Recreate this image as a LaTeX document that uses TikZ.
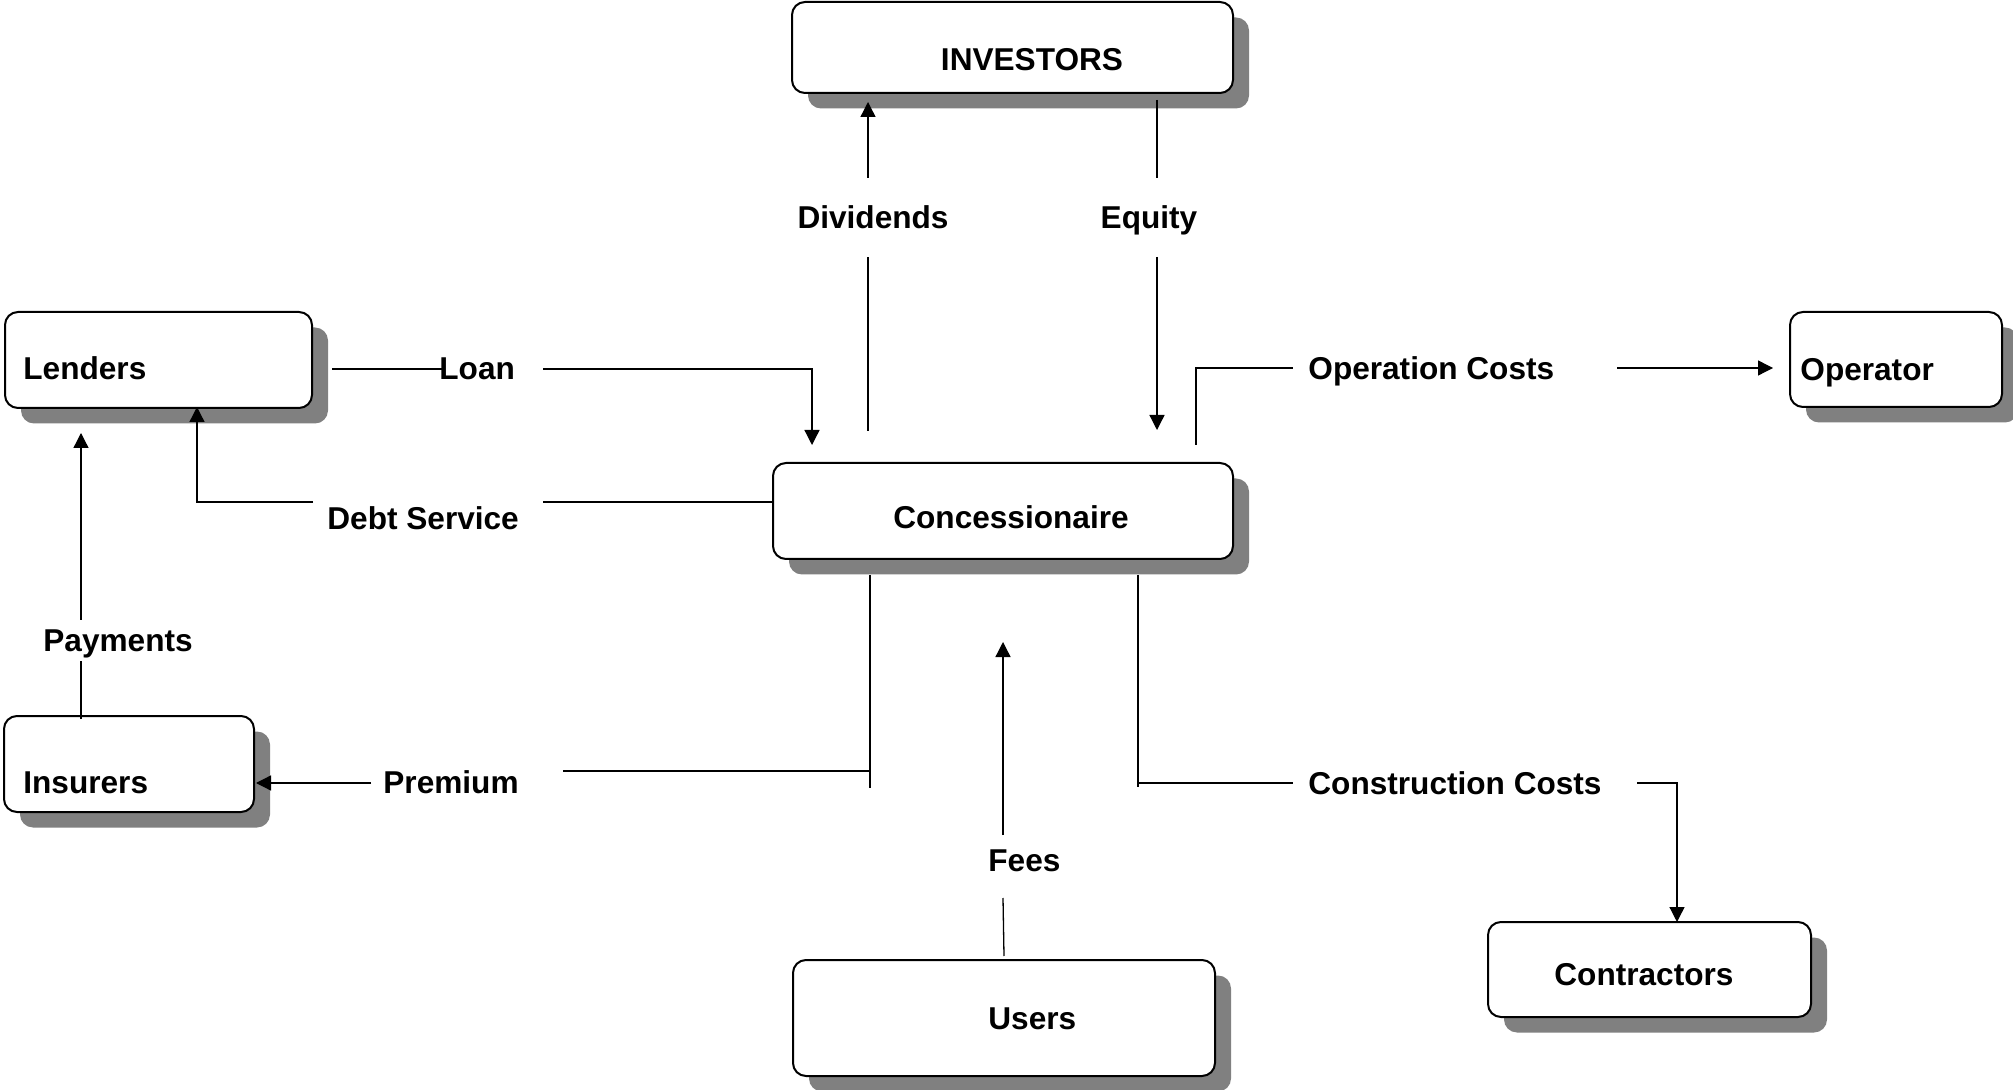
\documentclass[tikz,border=0pt]{standalone}
\usepackage{fontspec}
\setmainfont{Liberation Sans}
\usetikzlibrary{arrows.meta,shadows,fit}
\definecolor{shadowgray}{HTML}{808080}
\begin{document}
\begin{tikzpicture}[x=0.5pt,y=-0.5pt,
  box/.style={draw=black, line width=1pt, rounded corners=6.5pt, fill=white,
    inner sep=0pt, drop shadow={shadow xshift=8pt, shadow yshift=-7.75pt,
    fill=shadowgray, opacity=1}},
  lbl/.style={inner sep=0pt, font=\fontsize{15.8}{19}\selectfont\bfseries},
  flow/.style={line width=0.65pt, draw=black},
  tip/.style={flow, -{Triangle[length=7.5pt,width=7.5pt]}},
]
\useasboundingbox (0,0) rectangle (2013,1090);
\clip (0,0) rectangle (2013,1090);
\fill[white] (0,0) rectangle (2013,1090);

% boxes
\node[box, fit={(792,2) (1233,93)}]      (investors) {};
\node[box, fit={(5,312) (312,408)}]      (lenders) {};
\node[box, fit={(4,716) (254,812)}]      (insurers) {};
\node[box, fit={(1790,312) (2002,407)}]  (operator) {};
\node[box, fit={(773,463) (1233,559)}]   (conc) {};
\node[box, fit={(793,960) (1215,1076)}]  (users) {};
\node[box, fit={(1488,922) (1811,1017)}] (contractors) {};

% box captions
\node[lbl, anchor=base]      (tInvestors) at (1032,71)  {INVESTORS};
\node[lbl, anchor=base west] (tLenders)   at (23,380)   {Lenders};
\node[lbl, anchor=base west] (tInsurers)  at (23,793)   {Insurers};
\node[lbl, anchor=base west] (tOperator)  at (1800,381) {Operator};
\node[lbl, anchor=base]      (tConc)      at (1011,529) {Concessionaire};
\node[lbl, anchor=base west] (tUsers)     at (988,1029) {Users};
\node[lbl, anchor=base west] (tContr)     at (1554,985) {Contractors};

% flow labels
\node[lbl, anchor=base]      (lDiv)    at (873,229)  {Dividends};
\node[lbl, anchor=base]      (lEq)     at (1149,229) {Equity};
\node[lbl, anchor=base west] (lLoan)   at (439,380)  {Loan};
\node[lbl, anchor=base west] (lDebt)   at (327,530)  {Debt Service};
\node[lbl, anchor=base west] (lPay)    at (43,652)   {Payments};
\node[lbl, anchor=base west] (lPrem)   at (383,793)  {Premium};
\node[lbl, anchor=base west] (lOps)    at (1308,380) {Operation Costs};
\node[lbl, anchor=base west] (lCons)   at (1308,794) {Construction Costs};
\node[lbl, anchor=base west] (lFees)   at (988,871)  {Fees};

% connector end points
\coordinate (loanA) at (332,369);  \coordinate (loanB) at (443,369);
\coordinate (loanC) at (543,369);  \coordinate (loanD) at (812,369);
\coordinate (loanE) at (812,445);
\coordinate (debtA) at (773,502);  \coordinate (debtB) at (543,502);
\coordinate (debtC) at (313,502);  \coordinate (debtD) at (197,502);
\coordinate (debtE) at (197,407);
\coordinate (payA) at (81,719);    \coordinate (payB) at (81,661);
\coordinate (payC) at (81,620);    \coordinate (payD) at (81,433);
\coordinate (premA) at (870,575);  \coordinate (premB) at (870,788);
\coordinate (premC) at (870,771);  \coordinate (premD) at (563,771);
\coordinate (premE) at (371,783);  \coordinate (premF) at (256,783);
\coordinate (divA) at (868,431);   \coordinate (divB) at (868,257);
\coordinate (divC) at (868,178);   \coordinate (divD) at (868,102);
\coordinate (eqA) at (1157,100);   \coordinate (eqB) at (1157,178);
\coordinate (eqC) at (1157,257);   \coordinate (eqD) at (1157,430);
\coordinate (opsA) at (1196,445);  \coordinate (opsB) at (1196,368);
\coordinate (opsC) at (1293,368);  \coordinate (opsD) at (1617,368);
\coordinate (opsE) at (1773,368);
\coordinate (conA) at (1138,575);  \coordinate (conB) at (1138,787);
\coordinate (conC) at (1138,783);  \coordinate (conD) at (1293,783);
\coordinate (conE) at (1637,783);  \coordinate (conF) at (1677,783);
\coordinate (conG) at (1677,922);
\coordinate (feeA) at (1004,956);  \coordinate (feeB) at (1003,898);
\coordinate (feeC) at (1003,835);  \coordinate (feeD) at (1003,642);

% Loan: lenders -> concessionaire
\draw[flow] (loanA) -- (loanB);
\draw[tip]  (loanC) -- (loanD) -- (loanE);
% Debt service: concessionaire -> lenders
\draw[flow] (debtA) -- (debtB);
\draw[tip]  (debtC) -- (debtD) -- (debtE);
% Payments: insurers -> lenders
\draw[flow] (payA) -- (payB);
\draw[tip]  (payC) -- (payD);
% Premium: concessionaire -> insurers
\draw[flow] (premA) -- (premB);
\draw[flow] (premC) -- (premD);
\draw[tip]  (premE) -- (premF);
% Dividends and equity
\draw[flow] (divA) -- (divB);
\draw[tip]  (divC) -- (divD);
\draw[flow] (eqA) -- (eqB);
\draw[tip]  (eqC) -- (eqD);
% Operation costs: concessionaire -> operator
\draw[flow] (opsA) -- (opsB) -- (opsC);
\draw[tip]  (opsD) -- (opsE);
% Construction costs: concessionaire -> contractors
\draw[flow] (conA) -- (conB);
\draw[flow] (conC) -- (conD);
\draw[tip]  (conE) -- (conF) -- (conG);
% Fees: users -> concessionaire
\draw[flow] (feeA) -- (feeB);
\draw[tip]  (feeC) -- (feeD);
\end{tikzpicture}
\end{document}
